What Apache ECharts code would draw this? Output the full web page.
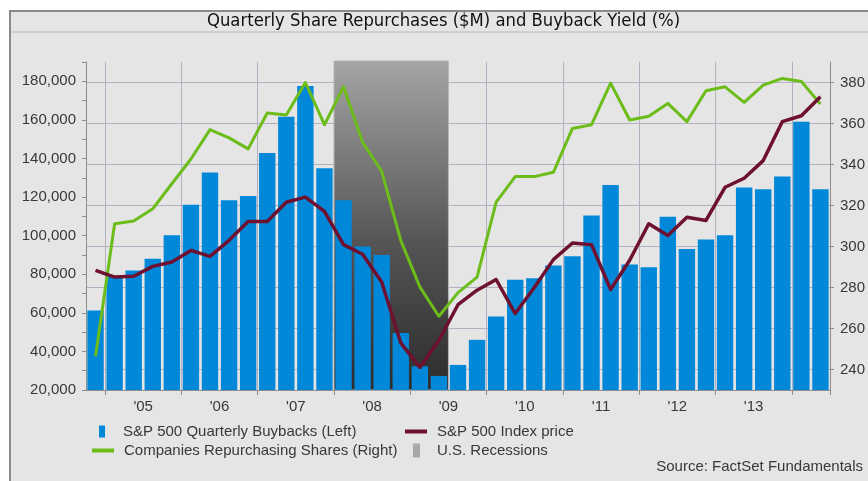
<!DOCTYPE html>
<html>
<head>
<meta charset="utf-8">
<script src="https://cdn.jsdelivr.net/npm/echarts@6/dist/echarts.min.js"></script>
<style>
  html, body { margin: 0; padding: 0; background: #fff; }
  #main { width: 868px; height: 481px; }
</style>
</head>
<body>
<div id="main"></div>
<script>
var quarters = ['Q4 04',
    'Q1 05', 'Q2 05', 'Q3 05', 'Q4 05', 'Q1 06', 'Q2 06', 'Q3 06', 'Q4 06',
    'Q1 07', 'Q2 07', 'Q3 07', 'Q4 07', 'Q1 08', 'Q2 08', 'Q3 08', 'Q4 08',
    'Q1 09', 'Q2 09', 'Q3 09', 'Q4 09', 'Q1 10', 'Q2 10', 'Q3 10', 'Q4 10',
    'Q1 11', 'Q2 11', 'Q3 11', 'Q4 11', 'Q1 12', 'Q2 12', 'Q3 12', 'Q4 12',
    'Q1 13', 'Q2 13', 'Q3 13', 'Q4 13', 'Q1 14', 'Q2 14'];

// S&P 500 quarterly buybacks, $M (left axis)
var buybacks = [61200,
    79000, 82000, 88000, 100200, 116000, 132700, 118300, 120500,
    142900, 161600, 177600, 134900, 118300, 94400, 90000, 49600,
    32300, 27300, 33000, 46000, 58100, 77200, 77900, 84500,
    89300, 110500, 126300, 85000, 83600, 109800, 93100, 98000,
    100200, 124900, 124000, 130600, 159000, 124000];

// companies repurchasing shares (right axis)
var repurchasing = [246.5,
    311.1, 312.4, 318.4, 330.6, 342.7, 357, 353, 347.6,
    365.1, 364.2, 380, 359.4, 377.9, 350.8, 336.7, 303,
    280.3, 266, 277.5, 285.1, 321.6, 334.1, 334.1, 336.2,
    357.6, 359.4, 379.7, 361.7, 363.5, 369.8, 360.9, 376,
    377.9, 370.3, 378.7, 382, 380.5, 369.5];

// S&P 500 index price, drawn against the right axis
var indexPrice = [288.4,
    285.1, 285.5, 290.3, 292.4, 298.1, 295.2, 303, 312.2,
    312.2, 321.6, 324.1, 317.1, 300.9, 296.2, 282.7, 253,
    241, 254.3, 271.6, 278.7, 283.9, 267.3, 280, 293.6,
    301.7, 300.9, 279, 293.3, 311.1, 305.4, 314.3, 312.7,
    328.9, 333.3, 341.9, 360.9, 363.8, 373.1];

var recessions = [['Q1 08', 'Q2 09']];

var FONT = '"Liberation Sans", Arial, sans-serif';
var TEXT_COLOR = '#383838';
var GRID_COLOR = '#b3b0c2';
var AXIS_COLOR = '#8c8c8c';

window.onload = function () {
    var myChart = echarts.init(document.getElementById('main'));

    function isYearStart(index) {
        return quarters[index] && quarters[index].indexOf('Q1') === 0;
    }

    // a year gets its label only when its middle (Q2/Q3 boundary) is on the axis
    function yearLabel(value) {
        if (value.indexOf('Q2') !== 0) return '';
        var yr = value.slice(3);
        if (quarters.indexOf('Q3 ' + yr) < 0) return '';
        return "'" + yr;
    }

    function legendBox(name, left, top, w, h, gap) {
        return {
            data: [{ name: name, icon: 'rect' }],
            left: left,
            top: top,
            padding: 0,
            itemWidth: w,
            itemHeight: h,
            selectedMode: false,
            textStyle: {
                fontFamily: FONT,
                fontSize: 15,
                color: TEXT_COLOR,
                padding: [0, 0, 0, gap]
            }
        };
    }

    var option = {
        backgroundColor: '#ffffff',
        animation: false,
        graphic: [
            {
                type: 'rect',
                z: -10,
                shape: { x: 10, y: 11, width: 870, height: 480 },
                style: { fill: '#e5e5e5', stroke: '#8a8a8a', lineWidth: 2 }
            },
            {
                type: 'line',
                z: -9,
                shape: { x1: 11, y1: 32, x2: 868, y2: 32 },
                style: { stroke: '#b8b8b8', lineWidth: 1 }
            }
        ],
        title: [
            {
                text: 'Quarterly Share Repurchases ($M) and Buyback Yield (%)',
                left: 207,
                top: 12,
                padding: 0,
                textStyle: {
                    fontFamily: '"Liberation Sans Narrow", "DejaVu Sans Condensed", "Open Sans", sans-serif',
                    fontSize: 18.3,
                    fontWeight: 'normal',
                    color: '#111111'
                }
            },
            {
                text: 'Source: FactSet Fundamentals',
                right: 5,
                top: 459,
                padding: 0,
                textStyle: {
                    fontFamily: FONT,
                    fontSize: 15,
                    fontWeight: 'normal',
                    color: TEXT_COLOR
                }
            }
        ],
        legend: [
            legendBox('S&P 500 Quarterly Buybacks (Left)', 99, 424, 6, 12, 13),
            legendBox('S&P 500 Index price', 405, 424, 22, 4, 5),
            legendBox('Companies Repurchasing Shares (Right)', 92, 443, 22, 4, 5),
            legendBox('U.S. Recessions', 413, 443, 7, 14, 12)
        ],
        grid: {
            left: 86,
            right: 37,
            top: 62,
            bottom: 91
        },
        xAxis: {
            type: 'category',
            data: quarters,
            boundaryGap: true,
            axisLine: { lineStyle: { color: AXIS_COLOR, width: 1 } },
            axisTick: {
                show: true,
                length: 5,
                interval: function (index) { return isYearStart(index); },
                lineStyle: { color: AXIS_COLOR }
            },
            splitLine: {
                show: true,
                interval: function (index) { return isYearStart(index); },
                lineStyle: { color: GRID_COLOR, width: 1 }
            },
            axisLabel: {
                interval: 0,
                margin: 9,
                fontFamily: FONT,
                fontSize: 15,
                color: TEXT_COLOR,
                padding: [0, 0, 0, 19],
                formatter: yearLabel
            }
        },
        yAxis: [
            {
                type: 'value',
                position: 'left',
                min: 20000,
                max: 190000,
                interval: 20000,
                axisLine: { show: true, lineStyle: { color: AXIS_COLOR } },
                axisTick: { show: true, length: 4, lineStyle: { color: AXIS_COLOR } },
                minorTick: { show: true, splitNumber: 2, length: 4, lineStyle: { color: AXIS_COLOR } },
                splitLine: { show: false },
                axisLabel: {
                    margin: 10,
                    showMaxLabel: false,
                    fontFamily: FONT,
                    fontSize: 15,
                    color: TEXT_COLOR,
                    formatter: function (v) { return echarts.format.addCommas(v); }
                }
            },
            {
                type: 'value',
                position: 'right',
                min: 230,
                max: 390,
                splitNumber: 8,
                axisLine: { show: true, lineStyle: { color: AXIS_COLOR } },
                axisTick: { show: true, length: 4, lineStyle: { color: AXIS_COLOR } },
                splitLine: {
                    show: true,
                    showMinLine: false,
                    showMaxLine: false,
                    lineStyle: { color: GRID_COLOR, width: 1 }
                },
                axisLabel: {
                    margin: 10,
                    showMinLabel: false,
                    showMaxLabel: false,
                    fontFamily: FONT,
                    fontSize: 15,
                    color: TEXT_COLOR
                }
            }
        ],
        series: [
            {
                name: 'U.S. Recessions',
                type: 'custom',
                z: 1,
                xAxisIndex: 0,
                yAxisIndex: 1,
                itemStyle: { color: '#a8a8a8' },
                encode: { x: [0, 1] },
                data: recessions,
                renderItem: function (params, api) {
                    var start = api.coord([api.value(0), 300]);
                    var end = api.coord([api.value(1), 300]);
                    var band = api.size([1, 0])[0];
                    var cs = params.coordSys;
                    return {
                        type: 'rect',
                        shape: {
                            x: start[0] - band / 2,
                            y: cs.y - 1,
                            width: end[0] - start[0] + band,
                            height: cs.height + 1
                        },
                        style: {
                            fill: new echarts.graphic.LinearGradient(0, 0, 0, 1, [
                                { offset: 0, color: '#a5a5a5' },
                                { offset: 0.55, color: '#555555' },
                                { offset: 1, color: '#2c2c2c' }
                            ]),
                            stroke: '#b5b5b5',
                            lineWidth: 1
                        }
                    };
                }
            },
            {
                name: 'S&P 500 Quarterly Buybacks (Left)',
                type: 'bar',
                z: 2,
                yAxisIndex: 0,
                barCategoryGap: '14%',
                itemStyle: { color: '#0288d8' },
                data: buybacks
            },
            {
                name: 'Companies Repurchasing Shares (Right)',
                type: 'line',
                z: 3,
                yAxisIndex: 1,
                symbol: 'none',
                itemStyle: { color: '#6cbd1a' },
                lineStyle: { color: '#6cbd1a', width: 3, join: 'round' },
                data: repurchasing
            },
            {
                name: 'S&P 500 Index price',
                type: 'line',
                z: 4,
                yAxisIndex: 1,
                symbol: 'none',
                itemStyle: { color: '#6e1030' },
                lineStyle: { color: '#6e1030', width: 3.5, join: 'round' },
                data: indexPrice
            }
        ]
    };

    myChart.setOption(option);
};
</script>
</body>
</html>
